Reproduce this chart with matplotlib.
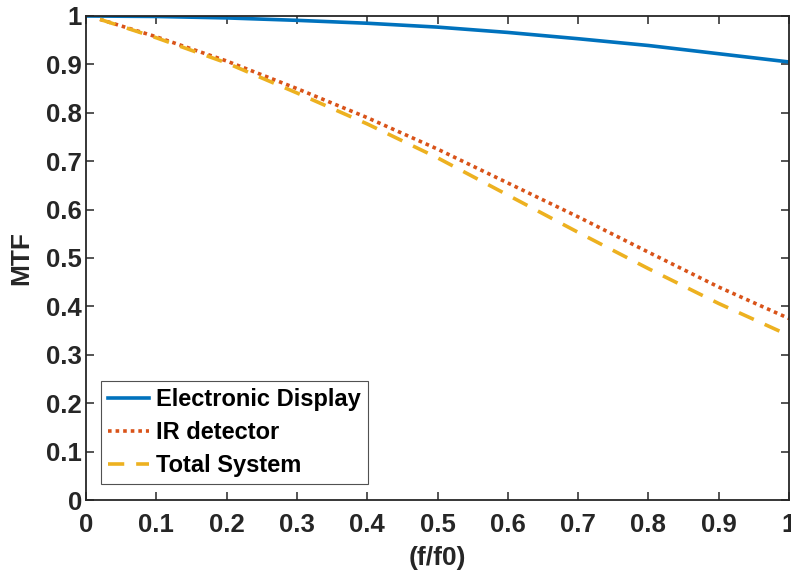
#!/usr/bin/env python3
"""MTF of the electronic display, IR detector and total system vs (f/f0)."""
import matplotlib
matplotlib.use("Agg")
import matplotlib.pyplot as plt

# values
freq_display = [0.0, 0.1, 0.2, 0.3, 0.4, 0.5, 0.6, 0.7, 0.8, 0.9, 1.0]
mtf_display = [1.0, 0.999, 0.996, 0.991, 0.985, 0.977, 0.966, 0.953, 0.939, 0.922, 0.905]

freq_ir = [0.02, 0.1, 0.2, 0.3, 0.4, 0.5, 0.6, 0.7, 0.8, 0.9, 1.0]
mtf_ir = [0.993, 0.957, 0.907, 0.850, 0.790, 0.725, 0.655, 0.585, 0.512, 0.440, 0.375]
mtf_total = [0.993, 0.955, 0.903, 0.841, 0.777, 0.707, 0.630, 0.553, 0.478, 0.406, 0.340]

series_names = ["Electronic Display", "IR detector", "Total System"]

DARK = "#262626"
plt.rcParams["font.family"] = ["Liberation Sans", "DejaVu Sans"]
plt.rcParams["font.weight"] = "bold"

fig = plt.figure(figsize=(7.91, 5.81), dpi=100)
ax = fig.add_axes([0.1087, 0.1394, 0.8888, 0.8331])

ax.plot(freq_display, mtf_display, color="#0072BD", lw=2.6, ls="-",
        label=series_names[0])
ax.plot(freq_ir, mtf_ir, color="#D95319", lw=2.6, ls=(0, (1, 1.1)),
        label=series_names[1])
ax.plot(freq_ir, mtf_total, color="#EDB120", lw=2.6, ls=(0, (4.5, 3.3)),
        label=series_names[2])

ax.set_xlim(0, 1)
ax.set_ylim(0, 1)
ax.set_xticks([i / 10 for i in range(11)])
ax.set_yticks([i / 10 for i in range(11)])
ax.set_xticklabels(["0"] + [f"{i / 10:g}" for i in range(1, 10)] + ["1"])
ax.set_yticklabels(["0"] + [f"{i / 10:g}" for i in range(1, 10)] + ["1"])
ax.tick_params(direction="in", length=6, width=1.1, colors=DARK,
               labelsize=18.5, top=True, right=True)
ax.tick_params(axis="x", pad=9)
ax.tick_params(axis="y", pad=3)
for s in ax.spines.values():
    s.set_color(DARK)
    s.set_linewidth(1.3)

ax.set_xlabel("(f/f0)", fontsize=19, fontweight="bold", color=DARK, labelpad=7)
ax.set_ylabel("MTF", fontsize=19, fontweight="bold", color=DARK, labelpad=9)

leg = ax.legend(loc="lower left", bbox_to_anchor=(0.021, 0.033),
                fontsize=17, frameon=True, fancybox=False,
                handlelength=1.75, handletextpad=0.3, borderpad=0.3,
                labelspacing=0.42, borderaxespad=0)
leg.get_frame().set_edgecolor("#262626")
leg.get_frame().set_linewidth(0.8)
for t in leg.get_texts():
    t.set_color("black")

fig.savefig("out.png", dpi=100)
